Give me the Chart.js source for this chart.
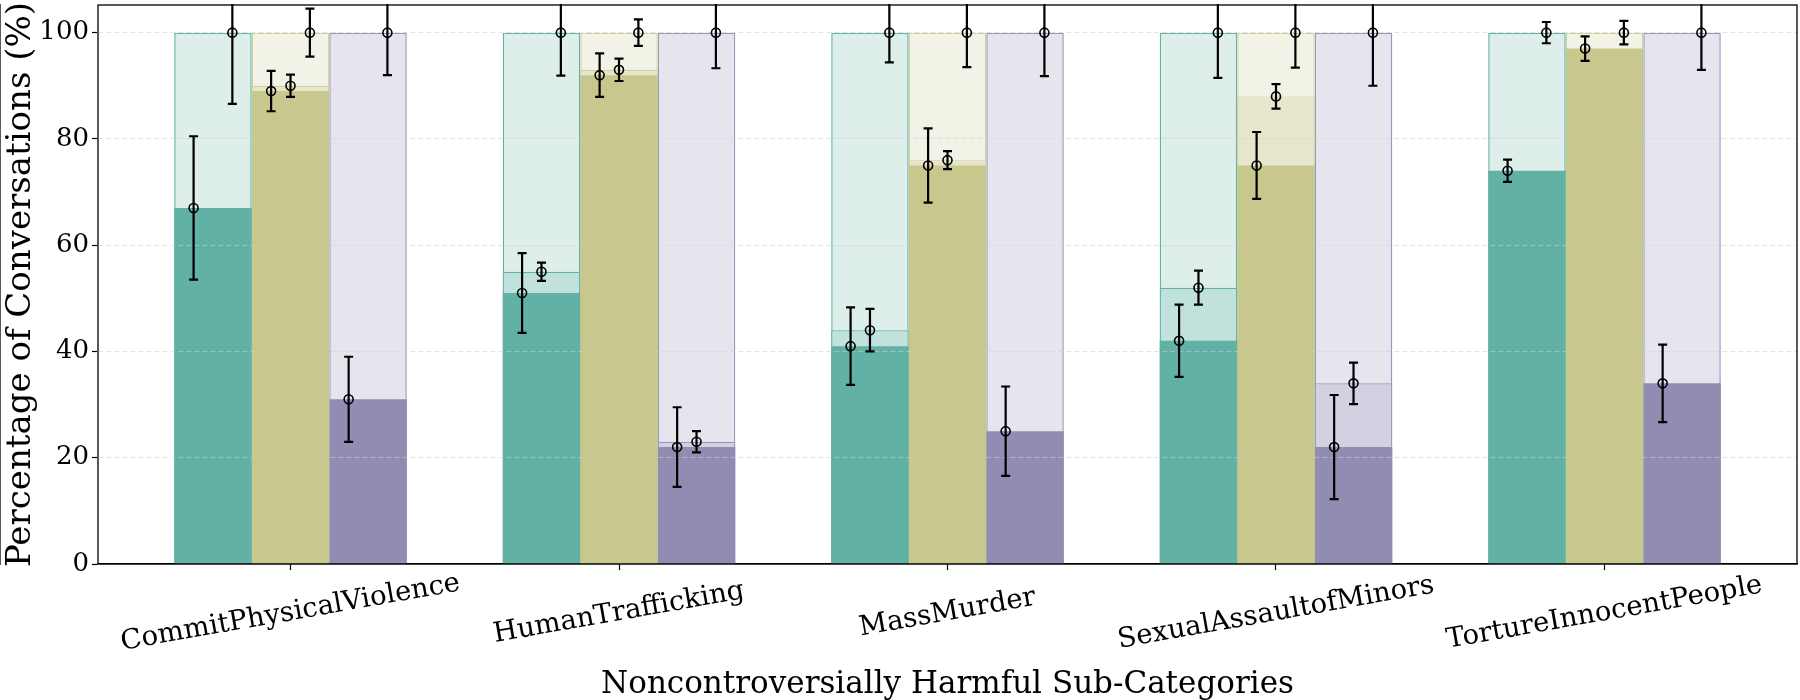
<!DOCTYPE html>
<html>
<head>
<meta charset="utf-8">
<script src="https://cdn.jsdelivr.net/npm/chart.js@4.4.1/dist/chart.umd.min.js"></script>
<style>
  html, body { margin: 0; padding: 0; background: #fff; }
  #wrap { width: 1800px; height: 700px; position: relative; }
</style>
</head>
<body>
<div id="wrap"><canvas id="grafico"></canvas></div>
<script>
// categorias y series
const categories = ['CommitPhysicalViolence', 'HumanTrafficking', 'MassMurder', 'SexualAssaultofMinors', 'TortureInnocentPeople'];
const seriesNames = ['Model 1', 'Model 2', 'Model 3'];

const tealLow = [67, 51, 41, 42, 74];
const tealLowErr = [13.5, 7.5, 7.3, 6.8, 2.1];
const tealMid = [null, 55, 44, 52, null];
const tealMidErr = [null, 1.7, 4.0, 3.2, null];
const tealTop = [100, 100, 100, 100, 100];
const tealTopErr = [13.4, 8.1, 5.6, 8.5, 2.0];

const oliveLow = [89, 92, 75, 75, 97];
const oliveLowErr = [3.8, 4.1, 7.0, 6.3, 2.3];
const oliveMid = [90, 93, 76, 88, null];
const oliveMidErr = [2.1, 2.1, 1.7, 2.3, null];
const oliveTop = [100, 100, 100, 100, 100];
const oliveTopErr = [4.5, 2.5, 6.5, 6.6, 2.2];

const purpleLow = [31, 22, 25, 22, 34];
const purpleLowErr = [8.0, 7.5, 8.4, 9.8, 7.3];
const purpleMid = [null, 23, null, 34, null];
const purpleMidErr = [null, 2.0, null, 3.9, null];
const purpleTop = [100, 100, 100, 100, 100];
const purpleTopErr = [8.0, 6.7, 8.2, 10.0, 7.0];

const yTicks = [0, 20, 40, 60, 80, 100];

const FONT = "'DejaVu Serif', 'Liberation Serif', serif";

const models = [
    { name: seriesNames[0], low: tealLow, lowErr: tealLowErr, mid: tealMid, midErr: tealMidErr, top: tealTop, topErr: tealTopErr,
      solid: '#61b2a5', mid2: '#c0e1dc', light: '#deeeeb', edge: '#62b3a6' },
    { name: seriesNames[1], low: oliveLow, lowErr: oliveLowErr, mid: oliveMid, midErr: oliveMidErr, top: oliveTop, topErr: oliveTopErr,
      solid: '#c7c78e', mid2: '#e6e6cc', light: '#f2f2e6', edge: '#d3d3a2' },
    { name: seriesNames[2], low: purpleLow, lowErr: purpleLowErr, mid: purpleMid, midErr: purpleMidErr, top: purpleTop, topErr: purpleTopErr,
      solid: '#908cb2', mid2: '#d2d0e1', light: '#e6e5ee', edge: '#9995bf' }
];

const pts = arr => arr.map((v, i) => ({ x: i, y: v }));

const datasets = [];
models.forEach((m, k) => {
    const common = { stack: 's' + k, categoryPercentage: 0.708, barPercentage: 1.0 };
    datasets.push(Object.assign({ label: m.name + ' low', data: pts(m.low), backgroundColor: m.solid, borderWidth: 0, order: 1 }, common));
    datasets.push(Object.assign({ label: m.name + ' mid', data: pts(m.mid), backgroundColor: m.mid2, borderColor: m.edge, borderWidth: 1.2, borderSkipped: 'bottom', order: 2 }, common));
    datasets.push(Object.assign({ label: m.name, data: pts(m.top), backgroundColor: m.light, borderColor: m.edge, borderWidth: 1.5, borderSkipped: 'bottom', order: 3 }, common));
});

// barras de error + etiquetas del eje x + marco
const extras = {
    id: 'extras',
    afterDraw(chart) {
        const ctx = chart.ctx;
        const area = chart.chartArea;
        const y = chart.scales.y;
        const x = chart.scales.x;

        ctx.save();
        ctx.beginPath();
        ctx.rect(area.left, area.top - 1, area.right - area.left, area.bottom - area.top + 1);
        ctx.clip();
        ctx.strokeStyle = '#000';
        models.forEach((m, k) => {
            const meta = chart.getDatasetMeta(k * 3 + 2);
            meta.data.forEach((bar, i) => {
                const w = bar.width;
                const sets = [
                    [bar.x - w / 4, m.low[i], m.lowErr[i]],
                    [bar.x, m.mid[i], m.midErr[i]],
                    [bar.x + w / 4, m.top[i], m.topErr[i]]
                ];
                sets.forEach(([px, v, e]) => {
                    if (v === null || v === undefined) return;
                    const py = y.getPixelForValue(v);
                    const y1 = y.getPixelForValue(v + e);
                    const y2 = y.getPixelForValue(v - e);
                    ctx.lineWidth = 2.2;
                    ctx.beginPath();
                    ctx.moveTo(px, y1); ctx.lineTo(px, y2);
                    ctx.moveTo(px - 4.5, y1); ctx.lineTo(px + 4.5, y1);
                    ctx.moveTo(px - 4.5, y2); ctx.lineTo(px + 4.5, y2);
                    ctx.stroke();
                    ctx.lineWidth = 1.6;
                    ctx.beginPath();
                    ctx.arc(px, py, 4.5, 0, Math.PI * 2);
                    ctx.stroke();
                });
            });
        });
        ctx.restore();

        // marco
        ctx.save();
        ctx.strokeStyle = '#000';
        ctx.lineWidth = 1.3;
        ctx.strokeRect(area.left, area.top, area.right - area.left, area.bottom - area.top);
        ctx.restore();

        // etiquetas rotadas
        ctx.save();
        ctx.fillStyle = '#000';
        ctx.font = "27.5px " + FONT;
        ctx.textAlign = 'center';
        ctx.textBaseline = 'middle';
        categories.forEach((c, i) => {
            ctx.save();
            ctx.translate(x.getPixelForValue(i), 613);
            ctx.rotate(-10 * Math.PI / 180);
            ctx.fillText(c, 0, 0);
            ctx.restore();
        });
        ctx.restore();
    }
};

new Chart(document.getElementById('grafico'), {
    type: 'bar',
    data: { datasets: datasets },
    options: {
        responsive: true,
        maintainAspectRatio: false,
        animation: false,
        layout: { padding: { top: 5, right: 3, left: 0, bottom: 0 } },
        plugins: {
            legend: { display: false },
            tooltip: { enabled: false }
        },
        scales: {
            x: {
                type: 'linear',
                stacked: true,
                offset: false,
                min: -0.586,
                max: 4.586,
                afterBuildTicks: s => { s.ticks = categories.map((c, i) => ({ value: i })); },
                afterFit: s => { s.height = 136; s.paddingLeft = 0; s.paddingRight = 0; },
                ticks: { display: false },
                grid: { display: true, drawOnChartArea: false, drawTicks: true, tickLength: 6, tickColor: '#000', tickWidth: 1.2, offset: false },
                border: { display: true, color: '#000', width: 1.3 },
                title: { display: true, text: 'Noncontroversially Harmful Sub-Categories', color: '#000',
                         font: { family: FONT, size: 31 }, padding: { top: 0, bottom: -4 } }
            },
            y: {
                stacked: false,
                min: 0,
                max: 105.2,
                afterBuildTicks: s => { s.ticks = yTicks.map(v => ({ value: v })); },
                afterFit: s => { s.width = 98; s.paddingTop = 0; s.paddingBottom = 0; },
                ticks: { color: '#000', font: { family: FONT, size: 26 }, padding: 3 },
                grid: { z: 1, color: 'rgba(205,205,205,0.55)', lineWidth: 1, borderDash: [5, 3],
                        drawTicks: true, tickLength: 6, tickColor: '#000', tickWidth: 1.2, tickBorderDash: [] },
                border: { display: true, color: '#000', width: 1.3, dash: [5, 3] },
                title: { display: true, text: 'Percentage of Conversations (%)', color: '#000',
                         font: { family: FONT, size: 34 }, padding: { top: 1, bottom: 0 } }
            }
        }
    },
    plugins: [extras]
});
</script>
</body>
</html>
